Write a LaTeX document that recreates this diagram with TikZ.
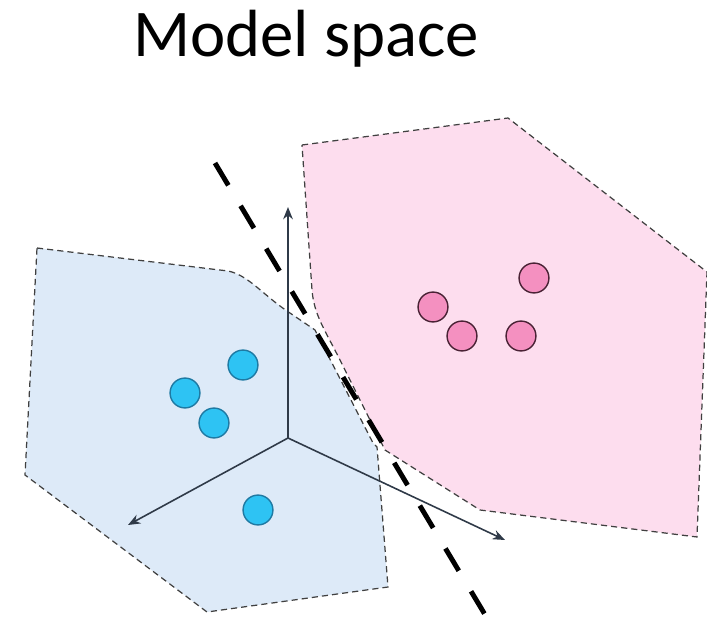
\documentclass[tikz,border=0pt]{standalone}
\usepackage{fontspec}
\setmainfont{Carlito}
\usepackage{xcolor}
\usepackage{tikz}
\usetikzlibrary{positioning, arrows.meta}

\definecolor{blueregion}{HTML}{DDEAF8}
\definecolor{pinkregion}{HTML}{FDDDEE}
\definecolor{bluepoint}{HTML}{2EC3F3}
\definecolor{bluerim}{HTML}{1F7AA3}
\definecolor{pinkpoint}{HTML}{F490C0}
\definecolor{pinkrim}{HTML}{4A2235}
\definecolor{axisgray}{HTML}{2F3A48}

\tikzset{
  region/.style={draw=black!75, line width=0.7pt, dash pattern=on 3.5pt off 2.3pt},
  bluedot/.style={circle, draw=bluerim, fill=bluepoint, line width=0.8pt, minimum size=17pt, inner sep=0pt},
  pinkdot/.style={circle, draw=pinkrim, fill=pinkpoint, line width=0.8pt, minimum size=17pt, inner sep=0pt},
  axis/.style={draw=axisgray, line width=0.9pt, -{Stealth[length=7pt, width=5.5pt]}},
  separator/.style={line width=2.8pt, dash pattern=on 14.8pt off 13.6pt}
}

\begin{document}
\begin{tikzpicture}[x=0.02cm, y=-0.02cm]
        \useasboundingbox (0,0) rectangle (707,628);

        \node[anchor=base, font=\fontsize{38}{40}\selectfont] (title) at (306,57) {Model space};

        % Regions
        \draw[region, fill=blueregion] (37,248) -- (228,271) .. controls (248,275) and (262,294) .. (287,311)
          -- (315,330) -- (373,443) -- (377,447) -- (388,587) -- (207,612) -- (25,475) -- cycle;
        \draw[region, fill=pinkregion] (302,145) -- (508,118) -- (707,272) -- (697,537) -- (480,510)
          -- (385,450) -- (340,360) .. controls (325,330) and (314,315) .. (312,290) -- cycle;

        % Decision boundary
        \coordinate (sepA) at (215,163);
        \coordinate (sepB) at (490,623);
        \draw[separator] (sepA) -- (sepB);

        % Axes
        \coordinate (origin) at (288,438);
        \coordinate (up) at (288,207);
        \coordinate (left) at (128,525);
        \coordinate (right) at (505,540);
        \foreach \tip in {up, left, right} {
          \draw[axis] (origin) -- (\tip);
        }

        % Points
        \foreach \name/\x/\y in {b1/243/365, b2/185/393, b3/214/423, b4/258/510} {
          \node[bluedot] (\name) at (\x,\y) {};
        }
        \foreach \name/\x/\y in {p1/534/278, p2/433/307, p3/462/336, p4/521/336} {
          \node[pinkdot] (\name) at (\x,\y) {};
        }
      \end{tikzpicture}
\end{document}
